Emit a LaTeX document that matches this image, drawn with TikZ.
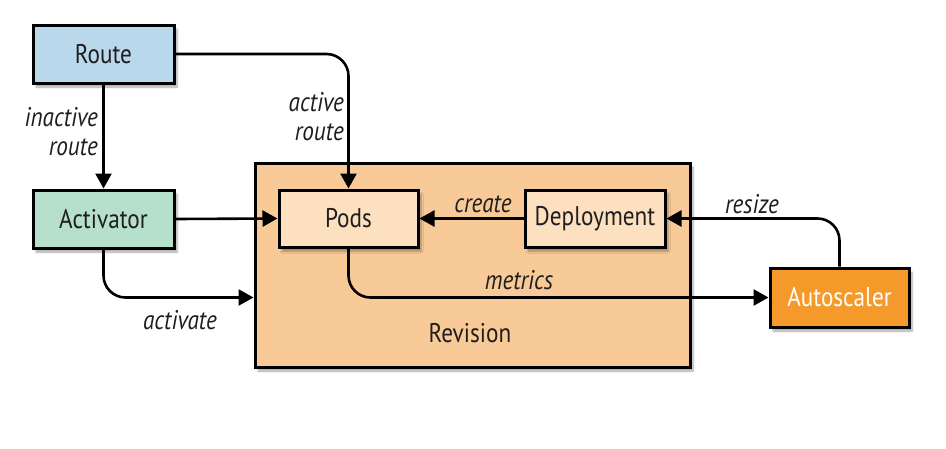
\documentclass[tikz,border=0pt]{standalone}
\usepackage{fontspec}
\setmainfont{PT Sans}[FakeStretch=0.86]
\usetikzlibrary{arrows.meta,shadows.blur}
\definecolor{routeblue}{RGB}{186,216,236}
\definecolor{actgreen}{RGB}{182,223,204}
\definecolor{revorange}{RGB}{248,202,152}
\definecolor{podpeach}{RGB}{252,224,192}
\definecolor{autoorange}{RGB}{245,154,42}
\definecolor{txt}{RGB}{30,30,30}
\tikzset{
  box/.style={draw=black, line width=3pt, minimum width=141pt, minimum height=58pt,
    inner sep=0pt, text=txt, font=\fontsize{27}{30}\selectfont,
    blur shadow={shadow xshift=3pt, shadow yshift=-4pt, shadow blur steps=6, shadow opacity=35}},
  conn/.style={line width=2.6pt, -{Triangle[length=15pt,width=16pt]}, rounded corners=22pt},
  lbl/.style={font=\fontsize{27}{29}\selectfont\itshape, text=txt, inner sep=0pt},
}
\begin{document}
\begin{tikzpicture}[x=1pt,y=-1pt]
\useasboundingbox (0,0) rectangle (946,448);
\node[box, fill=revorange, minimum width=435pt, minimum height=204pt] (rev) at (472.5,265) {};
\node[font=\fontsize{27}{30}\selectfont, text=txt] (revlabel) at (470,333) {Revision};
\node[box, fill=routeblue] (route) at (103.5,54) {Route};
\node[box, fill=actgreen] (act) at (103.5,219) {Activator};
\node[box, fill=podpeach, minimum width=139pt, minimum height=57pt] (pods) at (348.5,218.5) {Pods};
\node[box, fill=podpeach, minimum width=140pt, minimum height=57pt] (dep) at (595,218.5) {Deployment};
\node[box, fill=autoorange, text=white, minimum width=139pt, minimum height=59pt] (auto) at (839.5,297.5) {Autoscaler};

\draw[conn] (route.south) -- (act.north);
\draw[conn] (route.east) -| (pods.north);
\draw[conn] (act.east) -- (pods.west);
\coordinate (actin) at (rev.west |- auto.west);
\draw[conn] (act.south) |- (actin);
\draw[conn] (dep.west) -- (pods.east);
\draw[conn] (pods.south) |- (auto.west);
\draw[conn] (auto.north) |- (dep.east);

\node[lbl, align=right, anchor=east] (linact) at (98,132) {inactive\\route};
\node[lbl, align=right, anchor=east] (lact) at (344,117) {active\\route};
\node[lbl] (lactivate) at (180,320) {activate};
\node[lbl] (lcreate) at (483,204) {create};
\node[lbl] (lmetrics) at (519,280) {metrics};
\node[lbl] (lresize) at (752,204) {resize};
\end{tikzpicture}
\end{document}
